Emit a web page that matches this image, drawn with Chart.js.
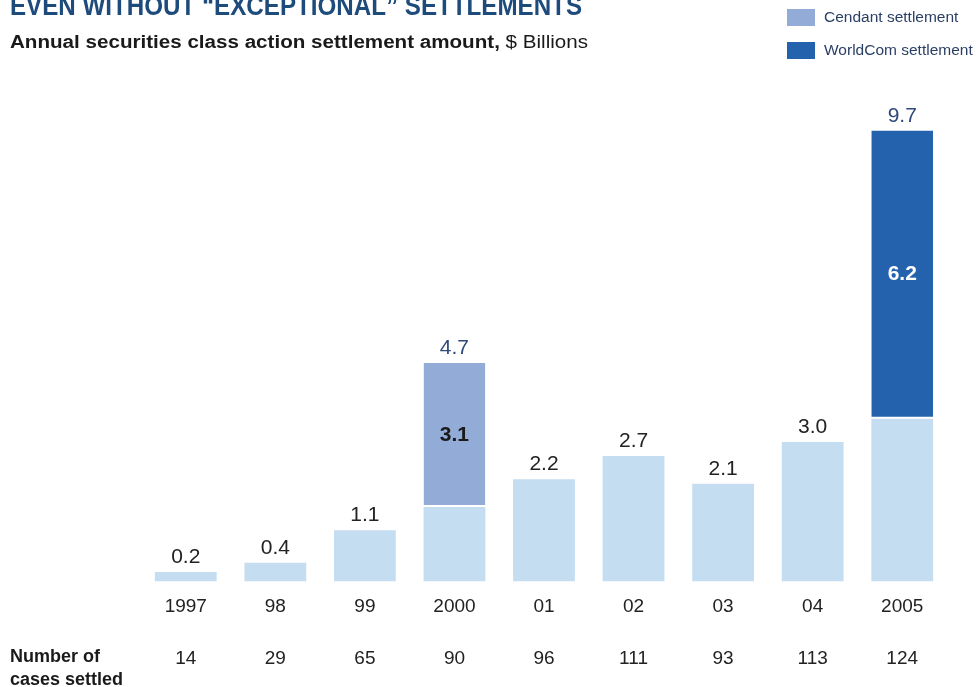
<!DOCTYPE html>
<html>
<head>
<meta charset="utf-8">
<script src="https://cdn.jsdelivr.net/npm/chart.js@4.4.1/dist/chart.umd.min.js"></script>
<style>
  html, body { margin: 0; padding: 0; background: #ffffff; }
  #wrap { width: 980px; height: 687px; position: relative; }
</style>
</head>
<body>
<div id="wrap"><canvas id="chart" width="980" height="687"></canvas></div>
<script>
// data
const years = ['1997', '98', '99', '2000', '01', '02', '03', '04', '2005'];
const baseAmount = [0.2, 0.4, 1.1, 1.6, 2.2, 2.7, 2.1, 3.0, 3.5];
const cendant = [null, null, null, 3.1, null, null, null, null, null];
const worldcom = [null, null, null, null, null, null, null, null, 6.2];
const casesSettled = ['14', '29', '65', '90', '96', '111', '93', '113', '124'];

const FONT = '"Liberation Sans", Arial, sans-serif';

// draw text squeezed/stretched to a given width (the original uses a condensed face)
function fitText(ctx, txt, x, y, width) {
    let w = ctx.measureText(txt).width;
    ctx.save();
    ctx.translate(x, y);
    ctx.scale(width / w, 1);
    ctx.fillText(txt, 0, 0);
    ctx.restore();
}

// titles, legend, value labels, row label
const decorations = {
    id: 'decorations',
    afterDatasetsDraw(chart) {
        const ctx = chart.ctx;
        const x = chart.scales.x;
        const y = chart.scales.y;
        ctx.save();

        // heading (cut off at top in the original)
        ctx.fillStyle = '#1c4b7c';
        ctx.font = 'bold 28px ' + FONT;
        ctx.textBaseline = 'alphabetic';
        ctx.textAlign = 'left';
        fitText(ctx, 'EVEN WITHOUT \u201CEXCEPTIONAL\u201D SETTLEMENTS', 10, 15, 572);

        // subtitle
        ctx.fillStyle = '#1a1a1a';
        ctx.textBaseline = 'middle';
        let sub = 'Annual securities class action settlement amount,';
        ctx.font = 'bold 18px ' + FONT;
        let w1 = ctx.measureText(sub).width;
        ctx.font = '18px ' + FONT;
        let w2 = ctx.measureText(' $ Billions').width;
        let k = 578 / (w1 + w2);
        ctx.save();
        ctx.translate(10, 43);
        ctx.scale(k, 1);
        ctx.font = 'bold 18px ' + FONT;
        ctx.fillText(sub, 0, 0);
        ctx.font = '18px ' + FONT;
        ctx.fillText(' $ Billions', w1, 0);
        ctx.restore();

        // legend
        const legendItems = [chart.data.datasets[1], chart.data.datasets[2]];
        legendItems.forEach((ds, i) => {
            let ly = 9 + i * 33;
            ctx.fillStyle = ds.backgroundColor;
            ctx.fillRect(787, ly, 28, 17);
            ctx.fillStyle = '#2a3f66';
            ctx.font = '15.5px ' + FONT;
            ctx.textBaseline = 'middle';
            ctx.fillText(ds.label, 824, ly + 9);
        });

        // totals above bars
        ctx.textAlign = 'center';
        ctx.textBaseline = 'alphabetic';
        ctx.font = '21px ' + FONT;
        years.forEach((yr, i) => {
            let total = baseAmount[i] + (cendant[i] || 0) + (worldcom[i] || 0);
            let special = cendant[i] || worldcom[i];
            ctx.fillStyle = special ? '#2e4a7a' : '#222222';
            ctx.fillText(total.toFixed(1), x.getPixelForValue(i), y.getPixelForValue(total) - 9);
        });

        // labels inside exceptional segments
        ctx.font = 'bold 21px ' + FONT;
        ctx.textBaseline = 'middle';
        years.forEach((yr, i) => {
            if (cendant[i]) {
                ctx.fillStyle = '#1a1a1a';
                let mid = baseAmount[i] + cendant[i] / 2;
                ctx.fillText(cendant[i].toFixed(1), x.getPixelForValue(i), y.getPixelForValue(mid));
            }
            if (worldcom[i]) {
                ctx.fillStyle = '#ffffff';
                let mid = baseAmount[i] + worldcom[i] / 2;
                ctx.fillText(worldcom[i].toFixed(1), x.getPixelForValue(i), y.getPixelForValue(mid));
            }
        });

        // row label for the case counts
        ctx.textAlign = 'left';
        ctx.fillStyle = '#1a1a1a';
        ctx.font = 'bold 18px ' + FONT;
        ctx.fillText('Number of', 10, 657);
        ctx.fillText('cases settled', 10, 680);

        ctx.restore();
    }
};

new Chart(document.getElementById('chart'), {
    type: 'bar',
    data: {
        labels: years,
        datasets: [
            {
                label: 'Settlements',
                data: baseAmount,
                backgroundColor: '#c5ddf1',
                barPercentage: 0.69,
                categoryPercentage: 1
            },
            {
                label: 'Cendant settlement',
                data: cendant,
                backgroundColor: '#93acd7',
                borderColor: '#ffffff',
                borderWidth: { bottom: 2, top: 0, left: 0, right: 0 },
                borderSkipped: false,
                barPercentage: 0.69,
                categoryPercentage: 1
            },
            {
                label: 'WorldCom settlement',
                data: worldcom,
                backgroundColor: '#2562ad',
                borderColor: '#ffffff',
                borderWidth: { bottom: 2, top: 0, left: 0, right: 0 },
                borderSkipped: false,
                barPercentage: 0.69,
                categoryPercentage: 1
            }
        ]
    },
    options: {
        responsive: false,
        animation: false,
        layout: {
            padding: { left: 141, right: 33, top: 98, bottom: 2 }
        },
        scales: {
            x: {
                stacked: true,
                grid: { display: false, drawTicks: false },
                border: { display: false },
                ticks: {
                    autoSkip: false,
                    maxRotation: 0,
                    padding: 14,
                    color: '#222222',
                    font: { size: 19, family: FONT }
                }
            },
            x2: {
                type: 'category',
                labels: casesSettled,
                position: 'bottom',
                grid: { display: false, drawTicks: false },
                border: { display: false },
                ticks: {
                    autoSkip: false,
                    maxRotation: 0,
                    padding: 15,
                    color: '#222222',
                    font: { size: 19, family: FONT }
                }
            },
            y: {
                stacked: true,
                display: false,
                min: 0,
                max: 10.4
            }
        },
        plugins: {
            legend: { display: false },
            tooltip: { enabled: false }
        }
    },
    plugins: [decorations]
});
</script>
</body>
</html>
